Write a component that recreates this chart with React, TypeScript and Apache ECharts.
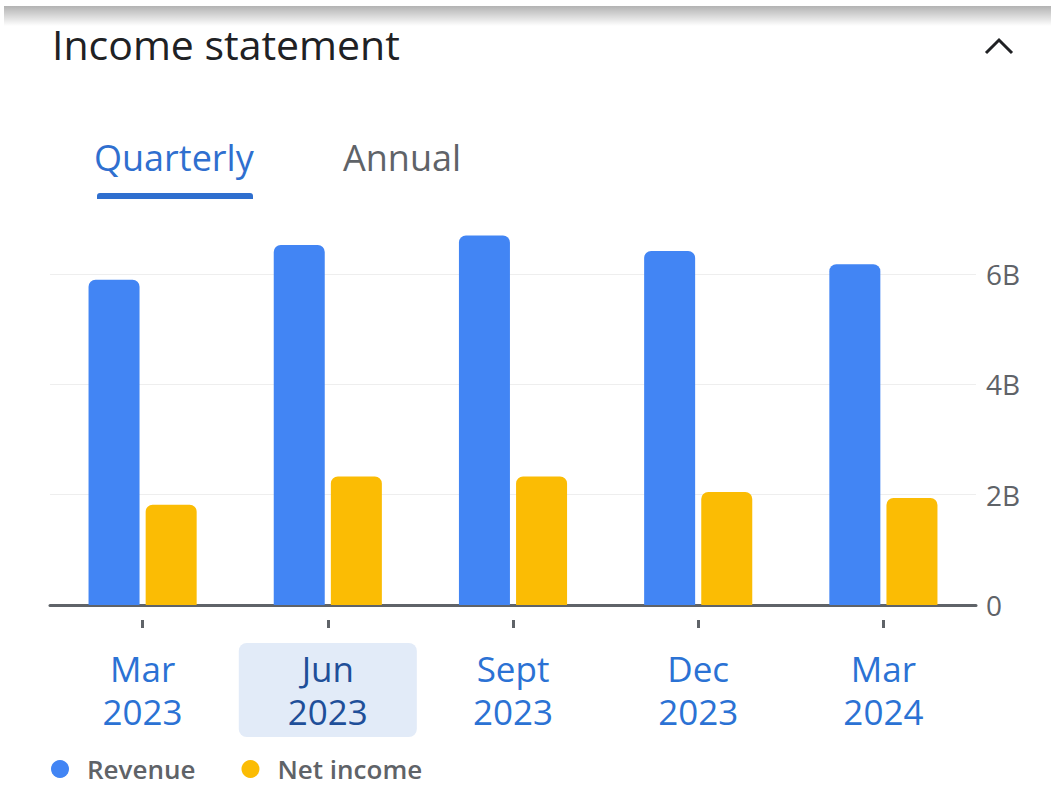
import React, { useEffect, useRef } from 'react';
import * as echarts from 'echarts';

const categories = ['Mar\n2023', 'Jun\n2023', 'Sept\n2023', 'Dec\n2023', 'Mar\n2024'];
const revenue = [5.9, 6.53, 6.7, 6.42, 6.18]; // billions
const netIncome = [1.82, 2.33, 2.33, 2.05, 1.94]; // billions
const yTickStep = 2;
const yMax = 7;
const highlightedIndex = 1;
const seriesNames = ['Revenue', 'Net income'];
const tabs = ['Quarterly', 'Annual'];
const title = 'Income statement';

const FONT = '"Open Sans", Roboto, sans-serif';

export default function App() {
  const ref = useRef<HTMLDivElement>(null);
  useEffect(() => {
    if (!ref.current) return;
    const chart = echarts.init(ref.current, null, { renderer: 'svg' });
    const catData = categories.map((c, i) =>
      i === highlightedIndex
        ? {
            value: c,
            textStyle: {
              backgroundColor: '#e2ebf8',
              borderRadius: 8,
              color: '#1f4f99',
              padding: [4, 49, 4, 49],
            },
          }
        : c
    );
    chart.setOption({
      animation: false,
      backgroundColor: '#ffffff',
      textStyle: { fontFamily: FONT },
      grid: { left: 50, right: 75, top: 219, bottom: 182, containLabel: false },
      legend: {
        data: seriesNames,
        left: 51,
        top: 755,
        padding: 0,
        icon: 'circle',
        itemWidth: 18,
        itemHeight: 18,
        itemGap: 46,
        textStyle: {
          fontSize: 26,
          lineHeight: 28,
          fontWeight: 600,
          color: '#5f6368',
          fontFamily: FONT,
          padding: [0, 0, 0, 13],
        },
      },
      xAxis: [
        {
          type: 'category',
          data: catData,
          gridIndex: 0,
          axisLine: { show: true, lineStyle: { color: '#5f6368', width: 3 } },
          axisTick: { show: false },
          axisLabel: {
            interval: 0,
            color: '#2b72d4',
            fontSize: 35,
            fontWeight: 500,
            lineHeight: 43,
            margin: 38,
            padding: [4, 0, 4, 0],
            fontFamily: FONT,
          },
        },
        {
          type: 'category',
          data: categories,
          gridIndex: 0,
          position: 'bottom',
          offset: 15,
          axisLine: { show: false },
          axisTick: { show: true, alignWithLabel: true, length: 8, lineStyle: { color: '#5f6368', width: 3 } },
          axisLabel: { show: false },
          splitLine: { show: false },
        },
      ],
      yAxis: {
        type: 'value',
        position: 'right',
        min: 0,
        max: yMax,
        interval: yTickStep,
        axisLine: { show: false },
        axisTick: { show: false },
        axisLabel: {
          margin: 10,
          fontSize: 28,
          color: '#5f6368',
          fontFamily: FONT,
          showMaxLabel: false,
          formatter: (v: number) => (v === 0 ? '0' : v + 'B'),
        },
        splitLine: { show: true, showMaxLine: false, lineStyle: { color: '#eeeeee', width: 1 } },
      },
      series: [
        {
          name: seriesNames[0],
          type: 'bar',
          data: revenue,
          barWidth: 51,
          barGap: '12%',
          itemStyle: { color: '#4285f4', borderRadius: [7, 7, 0, 0] },
        },
        {
          name: seriesNames[1],
          type: 'bar',
          data: netIncome,
          barWidth: 51,
          barGap: '12%',
          itemStyle: { color: '#fbbc04', borderRadius: [7, 7, 0, 0] },
        },
      ],
      graphic: [
        {
          type: 'rect',
          shape: { x: 4, y: 6, width: 1047, height: 20 },
          style: {
            fill: new echarts.graphic.LinearGradient(0, 0, 0, 1, [
              { offset: 0, color: 'rgba(0,0,0,0.30)' },
              { offset: 1, color: 'rgba(0,0,0,0)' },
            ]),
          },
          silent: true,
        },
        {
          type: 'text',
          style: { text: title, x: 52, y: 44, font: `41px ${FONT}`, fill: '#202124', verticalAlign: 'middle' },
        },
        {
          type: 'polyline',
          shape: { points: [[986, 53], [999, 40], [1012, 53]] },
          style: { stroke: '#202124', lineWidth: 3, fill: 'none' },
        },
        {
          type: 'text',
          style: { text: tabs[0], x: 94, y: 157, font: `500 36px ${FONT}`, fill: '#2f6fcf', verticalAlign: 'middle' },
        },
        {
          type: 'text',
          style: { text: tabs[1], x: 343, y: 157, font: `500 36px ${FONT}`, fill: '#5f6368', verticalAlign: 'middle' },
        },
        {
          type: 'rect',
          shape: { x: 97, y: 193, width: 156, height: 6, r: [3, 3, 0, 0] },
          style: { fill: '#2f6fcf' },
        },
      ],
    });
    return () => chart.dispose();
  }, []);
  return (
    <div
      ref={ref}
      style={{ position: 'fixed', left: 0, top: 0, width: 1051, height: 787, background: '#fff' }}
    />
  );
}
